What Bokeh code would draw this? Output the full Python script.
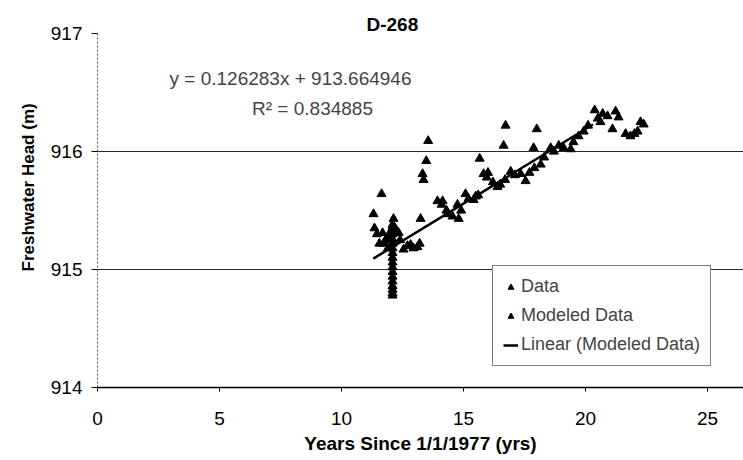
from bokeh.plotting import figure
from bokeh.models import Range1d, Label, Legend, LegendItem, FixedTicker, Title
from bokeh.embed import file_html
from bokeh.resources import INLINE
import math

title_text = "D-268"
x_label = "Years Since 1/1/1977 (yrs)"
y_label = "Freshwater Head (m)"
x_ticks = [0, 5, 10, 15, 20, 25]
y_ticks = [914, 915, 916, 917]
slope = 0.126283
intercept = 913.664946
r2 = 0.834885
fit_x = [11.3, 20.3]

data_x = [11.31, 11.64, 12.13, 13.24, 13.32, 13.36, 13.47, 13.55, 14.75, 15.66, 16.64, 16.72, 18.0, 17.87,
          12.09, 12.09, 12.09, 12.09, 12.09, 12.09, 12.09, 12.09, 12.09, 12.09, 12.09, 12.09, 12.09, 12.09,
          12.09, 12.09, 12.09, 12.09]
data_y = [915.47, 915.64, 915.43, 915.43, 915.81, 915.76, 915.92, 916.09, 915.55, 915.94, 916.05, 916.22, 916.19, 916.03,
          915.38, 915.34, 915.30, 915.26, 915.22, 915.18, 915.14, 915.10, 915.06, 915.02, 914.98, 914.94, 914.90, 914.86,
          914.83, 914.80, 914.78, 915.36]

model_x = [11.35, 11.45, 11.55, 11.68, 11.72, 11.8, 11.9, 11.95, 12.0, 12.2, 12.34, 12.4, 12.54, 12.7, 12.83, 12.95,
           13.11, 13.2, 13.93, 14.1, 14.14, 14.3, 14.34, 14.55, 14.8, 14.9, 15.08, 15.2, 15.41, 15.5, 15.6, 15.82,
           15.95, 16.0, 16.2, 16.39, 16.5, 16.7, 16.93, 17.1, 17.34, 17.54, 17.7, 17.9, 18.16, 18.3, 18.57, 18.7,
           18.9, 19.1, 19.39, 19.5, 19.71, 19.92, 20.1, 20.37, 20.5, 20.61, 20.7, 20.9, 21.1, 21.23, 21.35, 21.64,
           21.84, 22.0, 22.13, 22.25, 22.38]
model_y = [915.35, 915.30, 915.22, 915.31, 915.22, 915.25, 915.18, 915.30, 915.27, 915.35, 915.31, 915.25, 915.17,
           915.20, 915.21, 915.18, 915.19, 915.22, 915.58, 915.55, 915.58, 915.50, 915.47, 915.45, 915.43, 915.50,
           915.64, 915.60, 915.59, 915.62, 915.63, 915.81, 915.78, 915.82, 915.74, 915.70, 915.72, 915.76, 915.83,
           915.80, 915.81, 915.75, 915.82, 915.86, 915.89, 915.95, 916.03, 916.00, 916.05, 916.03, 916.02, 916.08,
           916.13, 916.17, 916.22, 916.35, 916.28, 916.25, 916.32, 916.30, 916.19, 916.34, 916.29, 916.15, 916.13,
           916.15, 916.17, 916.25, 916.23]

FONT = "Liberation Sans"
FS = "19px"

p = figure(width=743, height=460, output_backend="svg", toolbar_location=None,
           x_range=Range1d(0, 26.47), y_range=Range1d(914, 917),
           min_border_left=97, min_border_right=0, min_border_top=33, min_border_bottom=73)
p.outline_line_color = None
p.background_fill_color = "white"
p.border_fill_color = "white"

# title
p.title.text = title_text
p.title.align = "left"
p.title.offset = 269
p.title.text_font = FONT
p.title.text_font_size = FS
p.title.text_font_style = "bold"
p.title.text_color = "black"
p.title.standoff = -2

# grid
p.xgrid.grid_line_color = None
p.ygrid.ticker = FixedTicker(ticks=y_ticks)
p.ygrid.grid_line_color = "#2a2a2a"
p.ygrid.grid_line_width = 1

# axes
p.xaxis.ticker = FixedTicker(ticks=x_ticks)
p.yaxis.ticker = FixedTicker(ticks=y_ticks)
p.xaxis.minor_tick_line_color = None
p.yaxis.minor_tick_line_color = None
p.xaxis.major_tick_out = 4
p.xaxis.major_tick_in = 0
p.yaxis.major_tick_out = 6
p.yaxis.major_tick_in = 0
p.xaxis.axis_line_color = "black"
p.xaxis.axis_line_width = 1.5
p.yaxis.axis_line_color = "#555555"
p.yaxis.axis_line_dash = "2 2"
for ax in (p.xaxis, p.yaxis):
    ax.major_label_text_font = FONT
    ax.major_label_text_font_size = FS
    ax.major_label_text_color = "black"
    ax.major_tick_line_color = "black"
    ax.axis_label_text_font = FONT
    ax.axis_label_text_font_size = FS
    ax.axis_label_text_font_style = "bold"
    ax.axis_label_text_color = "black"
p.xaxis.major_label_standoff = 20
p.yaxis.major_label_standoff = 9
p.xaxis.axis_label = x_label
p.xaxis.axis_label_standoff = 5

# y-axis title, placed on the left side so that it can sit above the frame centre
y_title = Title(text=y_label, align="left", offset=116, text_font=FONT, text_font_size="17px",
                text_font_style="bold", text_color="black", standoff=19)
p.add_layout(y_title, "left")

# marks
r_data = p.scatter(data_x, data_y, marker="triangle", size=9, color="black")
r_model = p.scatter(model_x, model_y, marker="triangle", size=9, color="black")
fit_y = [slope * x + intercept for x in fit_x]
r_fit = p.line(fit_x, fit_y, line_color="black", line_width=2.5)

# legend proxies
nan = [math.nan]
l_data = p.scatter(nan, nan, marker="triangle", size=5, color="black")
l_model = p.scatter(nan, nan, marker="triangle", size=6, color="black")
l_fit = p.line(nan, nan, line_color="black", line_width=2.5)

legend = Legend(items=[LegendItem(label="Data", renderers=[l_data]),
                       LegendItem(label="Modeled Data", renderers=[l_model]),
                       LegendItem(label="Linear (Modeled Data)", renderers=[l_fit])],
                location=(395, 21), orientation="vertical",
                label_text_font=FONT, label_text_font_size="18px",
                glyph_width=15, glyph_height=20, label_height=20, spacing=8,
                padding=10, margin=0, label_standoff=3,
                border_line_color="black", border_line_width=1,
                background_fill_color="white", background_fill_alpha=1)
p.add_layout(legend, "center")

# regression annotation (screen units relative to the plot frame's bottom-left)
p.add_layout(Label(x=193, y=309, x_units="screen", y_units="screen",
                   text="y = " + str(slope) + "x + " + str(intercept),
                   text_font=FONT, text_font_size=FS, text_align="center", text_baseline="middle"))
p.add_layout(Label(x=215, y=279, x_units="screen", y_units="screen",
                   text="R² = " + str(r2),
                   text_font=FONT, text_font_size=FS, text_align="center", text_baseline="middle"))

open("out.html", "w").write(file_html(p, INLINE))
